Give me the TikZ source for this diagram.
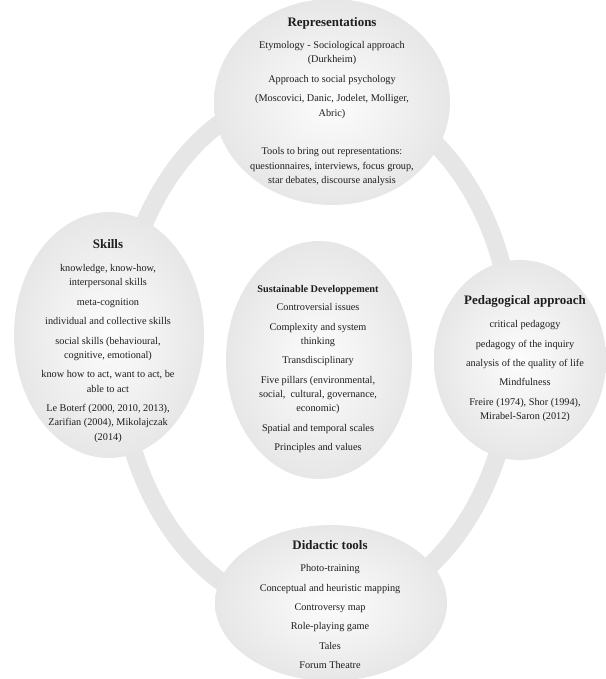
\documentclass[tikz,border=0pt]{standalone}
\usepackage{fontspec}
\setmainfont{Liberation Serif}
\usetikzlibrary{shapes.geometric}
\definecolor{ringgray}{HTML}{E6E6E6}
\definecolor{txt}{HTML}{1E1E1E}
\tikzset{
  blob/.style={ellipse, inner sep=0pt, draw=none, inner color=gray!2, outer color=gray!19},
  ttl/.style={font=\fontsize{13}{15}\selectfont\bfseries, text=txt, inner sep=0pt, anchor=base},
  ttlsmall/.style={font=\fontsize{10.3}{13}\selectfont\bfseries, text=txt, inner sep=0pt, anchor=base},
  bodytext/.style={font=\fontsize{10.3}{14.3}\selectfont, text=txt, align=center, inner sep=0pt, anchor=north},
  ringline/.style={draw=ringgray, line width=18bp}
}
\begin{document}
\begin{tikzpicture}[x=1bp,y=-1bp]
\useasboundingbox (0,0) rectangle (606,679);
\clip (0,0) rectangle (606,679);
% ring
\draw[ringline] (316,352) ellipse [x radius=197, y radius=262];
% ellipses
\node[blob, minimum width=236bp, minimum height=206bp] (rep) at (332,102) {};
\node[blob, minimum width=190bp, minimum height=246bp] (skills) at (109,335) {};
\node[blob, minimum width=186bp, minimum height=238bp] (sd) at (319,360) {};
\node[blob, minimum width=172bp, minimum height=200bp] (ped) at (520,360) {};
\node[blob, minimum width=232bp, minimum height=156bp] (did) at (331,603) {};
% Representations
\node[ttl] (repT) at (332,26.5) {Representations};
\node[bodytext] (repB) at (332,41.3) {Etymology - Sociological approach\\(Durkheim)\\[5.2bp]Approach to social psychology\\[5.2bp](Moscovici, Danic, Jodelet, Molliger,\\Abric)\\[24.7bp]Tools to bring out representations:\\questionnaires, interviews, focus group,\\star debates, discourse analysis};
% Skills
\node[ttl] (skT) at (108,248.5) {Skills};
\node[bodytext] (skB) at (108,264.3) {knowledge, know-how,\\interpersonal skills\\[5.2bp]meta-cognition\\[5.2bp]individual and collective skills\\[5.2bp]social skills (behavioural,\\cognitive, emotional)\\[5.2bp]know how to act, want to act, be\\able to act\\[5.2bp]Le Boterf (2000, 2010, 2013),\\Zarifian (2004), Mikolajczak\\(2014)};
% Sustainable development
\node[ttlsmall] (sdT) at (318,292.6) {Sustainable Developpement};
\node[bodytext] (sdB) at (318,303.3) {Controversial issues\\[5.2bp]Complexity and system\\thinking\\[5.2bp]Transdisciplinary\\[5.2bp]Five pillars (environmental,\\social,\ \ cultural, governance,\\economic)\\[5.2bp]Spatial and temporal scales\\[5.2bp]Principles and values};
% Pedagogical approach
\node[ttl] (pedT) at (525,304.3) {Pedagogical approach};
\node[bodytext] (pedB) at (525,320.3) {critical pedagogy\\[5.2bp]pedagogy of the inquiry\\[5.2bp]analysis of the quality of life\\[5.2bp]Mindfulness\\[5.2bp]Freire (1974), Shor (1994),\\Mirabel-Saron (2012)};
% Didactic tools
\node[ttl] (didT) at (330,549.5) {Didactic tools};
\node[bodytext] (didB) at (330,564.3) {Photo-training\\[5.2bp]Conceptual and heuristic mapping\\[5.2bp]Controversy map\\[5.2bp]Role-playing game\\[5.2bp]Tales\\[5.2bp]Forum Theatre};
\end{tikzpicture}
\end{document}
